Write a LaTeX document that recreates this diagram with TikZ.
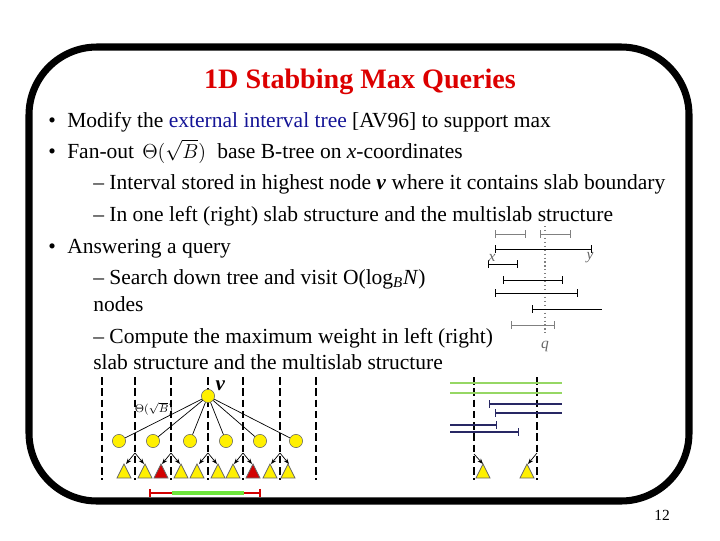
\documentclass[tikz,border=0pt]{standalone}
\usepackage{fontspec}
\setmainfont{Liberation Serif}
\usetikzlibrary{arrows.meta}

\definecolor{treeyellow}{RGB}{255,240,0}
\definecolor{treered}{RGB}{210,0,0}
\definecolor{titlered}{RGB}{220,0,0}
\definecolor{termblue}{RGB}{20,20,150}
\definecolor{barnavy}{RGB}{40,40,100}
\definecolor{bargreen}{RGB}{150,215,100}
\definecolor{spangreen}{RGB}{110,230,60}

\begin{document}
\begin{tikzpicture}[x=0.025cm, y=-0.025cm,
		bodytext/.style={anchor=base west, inner sep=0pt, font=\fontsize{15.3}{18}\selectfont},
		slabline/.style={line width=1.4pt, dash pattern=on 5.5pt off 2.5pt},
		slabnode/.style={circle, draw=black!60, fill=treeyellow, minimum size=0.33cm, inner sep=0pt},
		intv/.style={{Bar[width=5pt]}-{Bar[width=5pt]}, line width=0.7pt},
		ptr/.style={-{Stealth[length=4pt, width=3pt]}, line width=0.5pt}]
		\useasboundingbox (0,0) rectangle (720,540);
		% frame
		\draw[line width=5pt, rounded corners=1.7cm] (29,47) rectangle (689,501);
		\node[font=\fontsize{20}{24}\selectfont\bfseries, text=titlered, anchor=base] (title) at (360,88) {1D Stabbing Max Queries};
		% bullet list
		\node[bodytext] (b1) at (48,127) {\textbullet};
		\node[bodytext] (l1) at (67,127) {Modify the \textcolor{termblue}{external interval tree} [AV96] to support max};
		\node[bodytext] (b2) at (48,158) {\textbullet};
		\node[bodytext] (l2) at (67,158) {Fan-out};
		\node[bodytext] (fan) at (142,158) {$\Theta(\sqrt{B})$};
		\node[bodytext] (l2b) at (217,158) {base B-tree on \textit{x}-coordinates};
		\node[bodytext] (l3) at (93,189) {-- Interval stored in highest node \textbf{\textit{v}} where it contains slab boundary};
		\node[bodytext] (l4) at (93,221) {-- In one left (right) slab structure and the multislab structure};
		\node[bodytext] (b5) at (48,253) {\textbullet};
		\node[bodytext] (l5) at (67,253) {Answering a query};
		\node[bodytext] (l6) at (93,284) {-- Search down tree and visit O(log\textsubscript{\textit{B}}\textit{N})};
		\node[bodytext] (l7) at (93,311) {nodes};
		\node[bodytext] (l8) at (93,343) {-- Compute the maximum weight in left (right)};
		\node[bodytext] (l9) at (93,369) {slab structure and the multislab structure};
		% stabbing query
		\draw[gray, dotted, line width=0.8pt] (545,226) -- (545,333);
		\draw[intv, gray] (495,234) -- (526,234);
		\draw[intv, gray] (540,234) -- (571,234);
		\draw[intv] (495,249) -- (592,249);
		\draw[intv] (488,264) -- (518,264);
		\draw[intv] (503,280) -- (563,280);
		\draw[intv] (495,293) -- (578,293);
		\draw[{Bar[width=5pt]}-, line width=0.7pt] (532,309) -- (602,309);
		\draw[intv, gray] (511,325) -- (555,325);
		\node[font=\fontsize{11}{12}\selectfont\itshape, text=black!60] (xl) at (492,258) {x};
		\node[font=\fontsize{11}{12}\selectfont\itshape, text=black!60] (yl) at (590,258) {y};
		\node[font=\fontsize{11}{12}\selectfont\itshape, text=black!60] (ql) at (545,346) {q};
		% slabs
		\foreach \x in {102,135,171,208,243,280,316,474,537}
			\draw[slabline] (\x,377) -- (\x,480);
		\foreach \x in {135,171,208,243,280} {
			\draw[ptr] (\x,453) -- ++(-9,11);
			\draw[ptr] (\x,453) -- ++(9,11);
		}
		\draw[ptr] (474,454) -- ++(9,10);
		\draw[ptr] (537,453) -- ++(-9,11);
		% base tree
		\node[slabnode] (root) at (208,396) {};
		\node[font=\fontsize{15}{18}\selectfont\bfseries\itshape, anchor=west, inner sep=1pt] (vl) at (214,386) {v};
		\node[font=\fontsize{8}{9}\selectfont, inner sep=0pt] (fanl) at (154,409) {$\Theta(\sqrt{B})$};
		\foreach \i/\x in {1/119,2/153,3/190,4/226,5/260,6/296} {
			\node[slabnode] (c\i) at (\x,441) {};
			\draw[line width=0.5pt] (root) -- (c\i);
		}
		\foreach \x/\col in {124/treeyellow,145/treeyellow,161/treered,181/treeyellow,197/treeyellow,218/treeyellow,233/treeyellow,253/treered,270/treeyellow,288/treeyellow,483/treeyellow,527/treeyellow}
			\filldraw[fill=\col, draw=black!60, line width=0.5pt] (\x-7,478) -- (\x+7,478) -- (\x,464) -- cycle;
		% multislab lists
		\draw[bargreen, line width=1pt] (450,383) -- (562,383);
		\draw[bargreen, line width=1pt] (450,393) -- (562,393);
		\draw[barnavy, {Bar[width=5pt]}-, line width=0.8pt] (489,404) -- (562,404);
		\draw[barnavy, {Bar[width=5pt]}-, line width=0.8pt] (495,413) -- (562,413);
		\draw[barnavy, -{Bar[width=5pt]}, line width=0.8pt] (450,425) -- (497,425);
		\draw[barnavy, -{Bar[width=5pt]}, line width=0.8pt] (450,432) -- (519,432);
		% query span
		\draw[treered, {Bar[width=6pt]}-{Bar[width=6pt]}, line width=1.2pt] (149,493) -- (261,493);
		\draw[spangreen, line width=2.5pt] (172,493) -- (244,493);
		\node[font=\fontsize{11}{12}\selectfont] (page) at (662,515) {12};
\end{tikzpicture}
\end{document}
